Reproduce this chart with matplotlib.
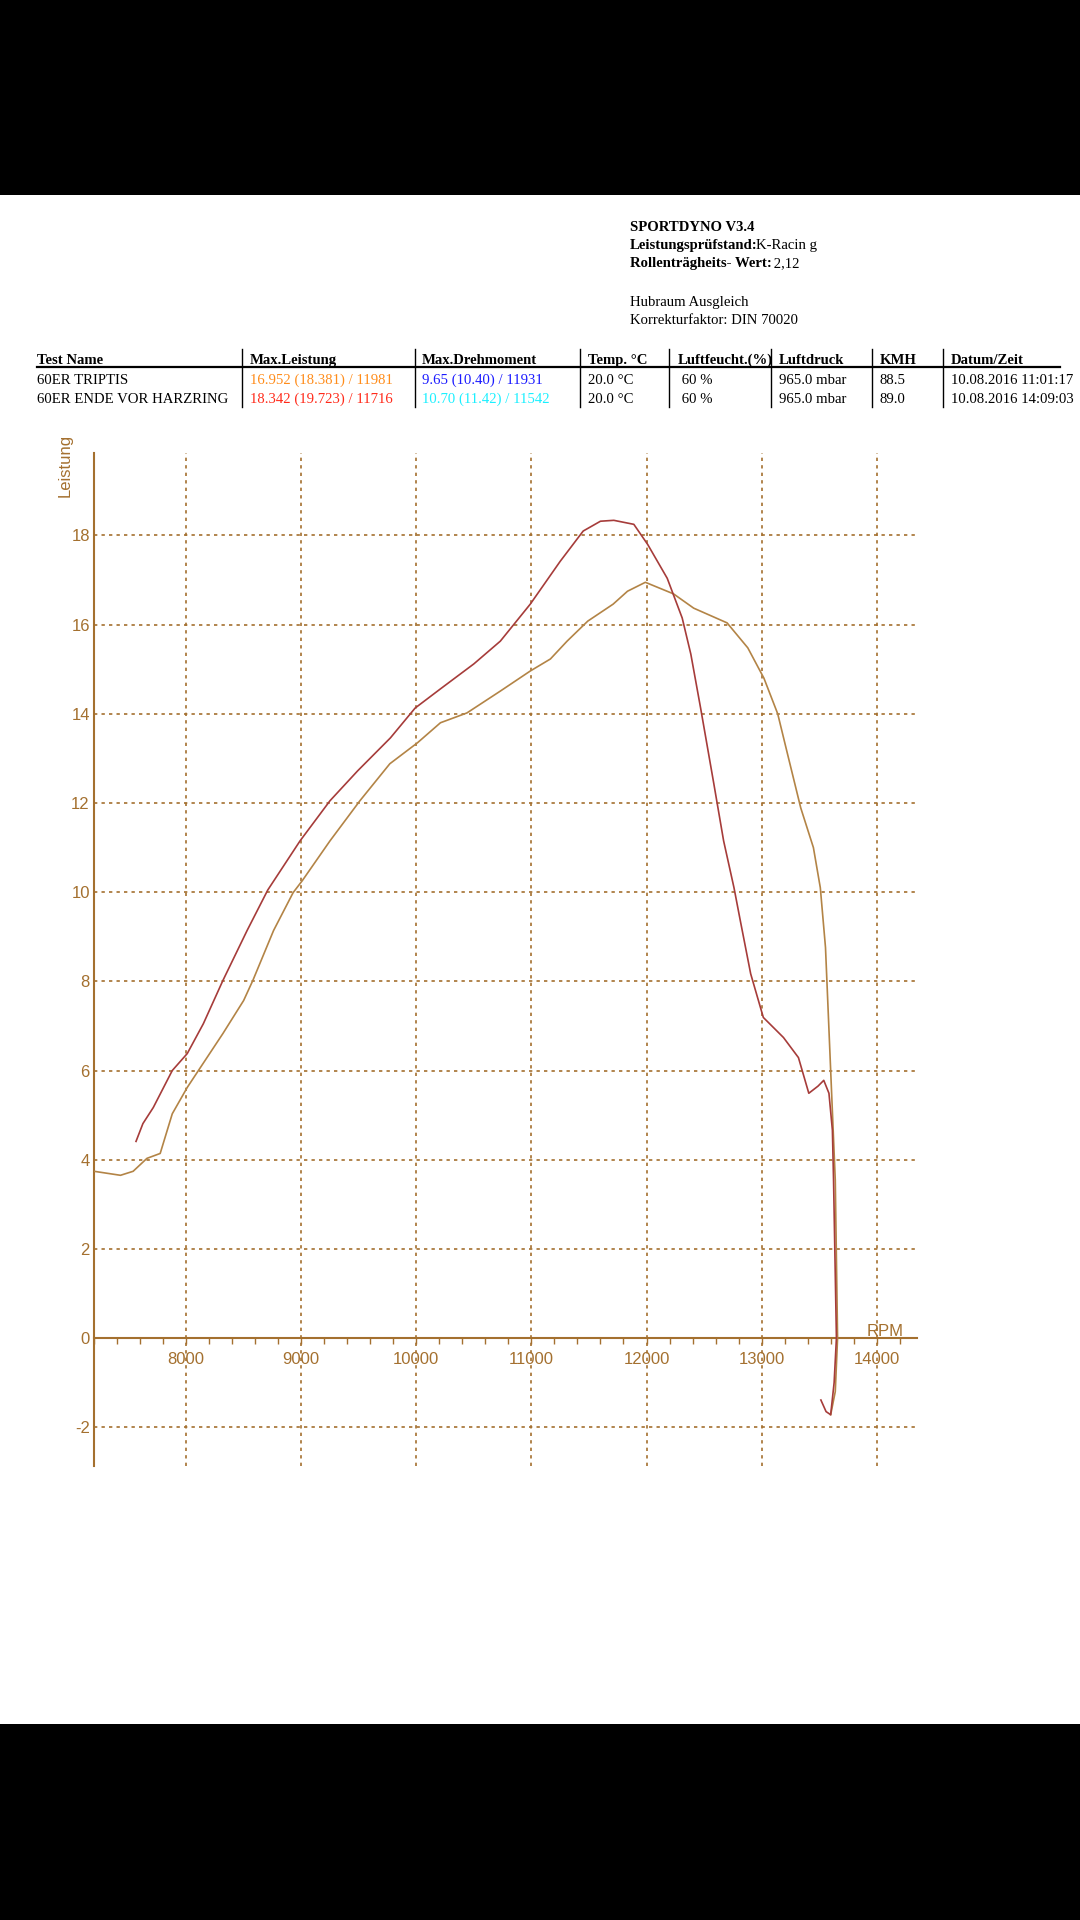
import matplotlib

matplotlib.use("Agg")
import matplotlib.pyplot as plt
from matplotlib.patches import Rectangle
from matplotlib.ticker import MultipleLocator

plt.rcParams["axes.unicode_minus"] = False

# Dyno run "60ER TRIPTIS" (brown)
rpm_triptis = [7200, 7430, 7540, 7660, 7775, 7880, 8010, 8120, 8320, 8500, 8580,
               8760, 8930, 9010, 9250, 9510, 9770, 10010, 10210, 10440, 10730,
               10990, 11165, 11310, 11490, 11710, 11835, 11990, 12235, 12410,
               12700, 12880, 13020, 13140, 13225, 13340, 13450, 13510, 13555,
               13600, 13640, 13660, 13640, 13600]
power_triptis = [3.74, 3.65, 3.74, 4.03, 4.14, 5.03, 5.62, 6.05, 6.83, 7.57, 8.02,
                 9.14, 9.99, 10.26, 11.15, 12.05, 12.88, 13.35, 13.80, 14.02, 14.51,
                 14.96, 15.23, 15.63, 16.08, 16.46, 16.75, 16.95, 16.69, 16.37,
                 16.04, 15.48, 14.80, 14.00, 13.10, 11.89, 11.00, 10.10, 8.76,
                 6.00, 3.54, 0.00, -1.20, -1.72]

# Dyno run "60ER ENDE VOR HARZRING" (red)
rpm_harzring = [7565, 7625, 7715, 7880, 8010, 8150, 8320, 8530, 8710, 8990, 9250,
                9490, 9775, 9990, 10210, 10500, 10730, 10990, 11250, 11450, 11600,
                11716, 11890, 12010, 12180, 12310, 12385, 12470, 12585, 12670,
                12760, 12815, 12905, 13015, 13190, 13320, 13410, 13490, 13540,
                13585, 13615, 13625, 13650, 13630, 13600, 13560, 13515]
power_harzring = [4.41, 4.81, 5.17, 6.00, 6.38, 7.05, 8.02, 9.14, 10.05, 11.15, 12.05,
                  12.72, 13.46, 14.13, 14.56, 15.12, 15.63, 16.46, 17.42, 18.10, 18.32,
                  18.34, 18.25, 17.80, 17.04, 16.15, 15.34, 14.13, 12.43, 11.15,
                  10.10, 9.36, 8.17, 7.19, 6.74, 6.29, 5.49, 5.65, 5.78,
                  5.49, 4.66, 3.54, 0.00, -1.00, -1.72, -1.65, -1.39]

header_lines = [("SPORTDYNO V3.4", ""),
                ("Leistungsprüfstand:", "K-Racin g"),
                ("Rollenträgheits- Wert:", " 2,12")]
info_lines = ["Hubraum Ausgleich", "Korrekturfaktor: DIN 70020"]

table_cols = ["Test Name", "Max.Leistung", "Max.Drehmoment", "Temp. °C",
              "Luftfeucht.(%)", "Luftdruck", "KMH", "Datum/Zeit"]
table_rows = [
    ["60ER TRIPTIS", "16.952 (18.381) / 11981", "9.65 (10.40) / 11931", "20.0 °C",
     " 60 %", "965.0 mbar", "88.5", "10.08.2016 11:01:17"],
    ["60ER ENDE VOR HARZRING", "18.342 (19.723) / 11716", "10.70 (11.42) / 11542",
     "20.0 °C", " 60 %", "965.0 mbar", "89.0", "10.08.2016 14:09:03"],
]
value_colors = [["black", "#ff8c1a", "#1a1aff", "black", "black", "black", "black", "black"],
                ["black", "#ff2a1a", "#1af0ff", "black", "black", "black", "black", "black"]]

BROWN = "#a4702f"
C_TRIPTIS = "#b38446"
C_HARZ = "#a63c3a"
W, H = 1080, 1920

fig = plt.figure(figsize=(10.8, 19.2), dpi=100, facecolor="white")
# black bands of the screenshot
fig.patches.append(Rectangle((0, 1 - 195 / H), 1, 195 / H, transform=fig.transFigure,
                             facecolor="black", edgecolor="none", zorder=-10))
fig.patches.append(Rectangle((0, 0), 1, (H - 1724) / H, transform=fig.transFigure,
                             facecolor="black", edgecolor="none", zorder=-10))


def fx(px):
    return px / W


def fy(py):
    return 1 - py / H


serif = "Liberation Serif"
FS = 10.6

# header block
y = 231
for bold, rest in header_lines:
    t = fig.text(fx(630), fy(y), bold, fontsize=FS, family=serif, weight="bold",
                 va="baseline", ha="left")
    if rest:
        fig.canvas.draw()
        bb = t.get_window_extent()
        fig.text(bb.x1 / W - 0.002, fy(y), rest, fontsize=FS, family=serif,
                 va="baseline", ha="left")
    y += 18
y = 306
for line in info_lines:
    fig.text(fx(630), fy(y), line, fontsize=FS, family=serif, va="baseline", ha="left")
    y += 18

# summary table
col_x = [37, 250, 422, 588, 678, 779, 880, 951]
sep_x = [242, 415, 580, 669, 771, 872, 943]
for cx, name in zip(col_x, table_cols):
    fig.text(fx(cx), fy(364), name, fontsize=FS, family=serif, weight="bold",
             va="baseline", ha="left")
for r, row in enumerate(table_rows):
    ry = 384 + r * 19
    for c, (cx, val) in enumerate(zip(col_x, row)):
        fig.text(fx(cx), fy(ry), val, fontsize=FS, family=serif,
                 color=value_colors[r][c], va="baseline", ha="left")
fig.add_artist(plt.Line2D([fx(37), fx(1060)], [fy(367), fy(367)], color="black", lw=1.6))
for sx in sep_x:
    fig.add_artist(plt.Line2D([fx(sx), fx(sx)], [fy(349), fy(407)], color="black", lw=1))

# dyno plot
ax = fig.add_axes([fx(94), fy(1466), fx(917 - 94), (1466 - 453) / H])
ax.set_facecolor("none")
ax.plot(rpm_triptis, power_triptis, color=C_TRIPTIS, lw=1.2, zorder=3)
ax.plot(rpm_harzring, power_harzring, color=C_HARZ, lw=1.2, zorder=4)

ax.set_xlim(7200, 14350)
ax.set_ylim(-2.87, 19.85)
ax.xaxis.set_major_locator(MultipleLocator(1000))
ax.xaxis.set_minor_locator(MultipleLocator(200))
ax.yaxis.set_major_locator(MultipleLocator(2))

for s in ["top", "right"]:
    ax.spines[s].set_visible(False)
ax.spines["bottom"].set_position(("data", 0))
ax.spines["bottom"].set_color(BROWN)
ax.spines["left"].set_color(BROWN)
ax.spines["bottom"].set_linewidth(1.5)
ax.spines["left"].set_linewidth(1.5)

ax.tick_params(axis="x", which="both", direction="out", length=4, width=1,
               color=BROWN, labelcolor=BROWN, labelsize=12, pad=6)
ax.tick_params(axis="y", length=0, labelcolor=BROWN, labelsize=12, pad=3)
for lab in ax.get_xticklabels() + ax.get_yticklabels():
    lab.set_family("Liberation Sans")

ax.grid(True, which="major", color=BROWN, linestyle=(0, (2, 2.5)), lw=1.2, zorder=1)
ax.set_axisbelow(True)

fig.text(fx(885), fy(1331), "RPM", color=BROWN, fontsize=12, family="Liberation Sans",
         ha="center", va="center")
fig.text(fx(65), fy(465), "Leistung", color=BROWN, fontsize=12, family="Liberation Sans",
         rotation=90, ha="center", va="center")

fig.savefig("out.png", dpi=100, facecolor="white")
